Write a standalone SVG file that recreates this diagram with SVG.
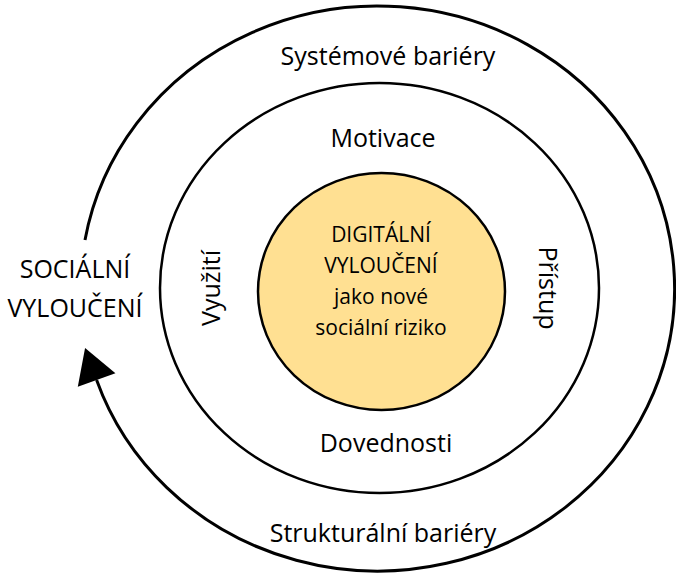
<svg xmlns="http://www.w3.org/2000/svg" width="676" height="575" viewBox="0 0 676 575">
<style>
  text { font-family: "Open Sans", "Noto Sans", sans-serif; fill: #000; text-anchor: middle; }
  .lbl { font-size: 25px; }
  .core { font-size: 21px; }
  .ring { fill: none; stroke: #000; stroke-width: 2.5; }
</style>
<defs>
  <marker id="arrow" markerUnits="userSpaceOnUse" markerWidth="36" markerHeight="42" refX="0" refY="20" orient="auto" overflow="visible">
    <path d="M0,0 L34,20 L0,40 Z" fill="#000"/>
  </marker>
</defs>
<rect width="676" height="575" fill="#fff"/>
<g id="connectors">
  <path id="outer-cycle" d="M 85 240 A 297 282.5 0 1 1 96.6 380" fill="none" stroke="#000" stroke-width="3" marker-end="url(#arrow)"/>
</g>
<g id="outer-ring-labels">
  <text class="lbl" x="388" y="65">Systémové bariéry</text>
  <text class="lbl" x="383" y="542">Strukturální bariéry</text>
</g>
<g id="social-exclusion">
  <text class="lbl" x="75" y="278">SOCIÁLNÍ</text>
  <text class="lbl" x="75" y="317">VYLOUČENÍ</text>
</g>
<g id="middle-ring">
  <ellipse class="ring" cx="379.5" cy="288" rx="219.5" ry="205"/>
  <text class="lbl" x="383" y="147">Motivace</text>
  <text class="lbl" x="386" y="452">Dovednosti</text>
  <text class="lbl" transform="translate(220,288) rotate(-90)">Využití</text>
  <text class="lbl" transform="translate(539,288) rotate(90)">Přístup</text>
</g>
<g id="digital-exclusion">
  <ellipse cx="381.5" cy="291.5" rx="123.5" ry="118.5" fill="#FFE092" stroke="#000" stroke-width="2.5"/>
  <text class="core" x="381" y="242">DIGITÁLNÍ</text>
  <text class="core" x="381" y="273">VYLOUČENÍ</text>
  <text class="core" x="381" y="304">jako nové</text>
  <text class="core" x="381" y="335">sociální riziko</text>
</g>
</svg>
